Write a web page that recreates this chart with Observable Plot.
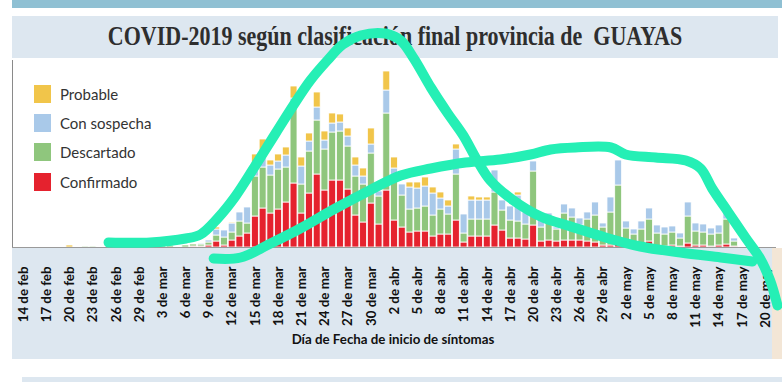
<!DOCTYPE html>
<html><head><meta charset="utf-8">
<script src="https://cdn.jsdelivr.net/npm/d3@7"></script>
<script src="https://cdn.jsdelivr.net/npm/@observablehq/plot@0.6"></script>
<style>
body{margin:0;background:#fff;}
#wrap{position:relative;width:782px;height:382px;overflow:hidden;font-family:Lato,"Open Sans",sans-serif;}
.bg{position:absolute;}
#title{position:absolute;left:12px;top:16px;width:766px;height:42px;line-height:42px;text-align:center;font-family:"Liberation Serif","Times New Roman",serif;font-weight:bold;font-size:22px;color:#2e2e2e;white-space:pre;transform:scaleY(1.22);transform-origin:50% 52%;}
#xlabel{position:absolute;left:12px;width:762px;top:331px;text-align:center;font-family:Lato,sans-serif;font-weight:bold;font-size:13.3px;color:#111;}
#legend{position:absolute;left:34px;top:79px;}
.lrow{display:flex;align-items:center;height:29.4px;}
.sw{width:17px;height:18px;margin-right:9px;}
.lt{font-family:Lato,sans-serif;font-size:15px;color:#333;}
#chart{position:absolute;left:0;top:0;}
</style></head><body>
<div id="wrap">
  <div class="bg" style="left:12px;top:0;width:770px;height:8px;background:#8fc0d3"></div>
  <div class="bg" style="left:12px;top:16px;width:766px;height:42px;background:#dde7f0"></div>
  <div id="title">COVID-2019 según clasificación final provincia de  GUAYAS</div>
  <div class="bg" style="left:12px;top:248px;width:760px;height:111px;background:#dde7f0"></div>
  <div class="bg" style="left:772px;top:248px;width:10px;height:111px;background:#f3e6d6"></div>
  <div class="bg" style="left:22px;top:377px;width:760px;height:5px;background:#dde7f0"></div>
  <div id="xlabel">Día de Fecha de inicio de síntomas</div>
  <div id="legend"></div>
  <div id="chart"></div>
</div>
<script>
// ---- data (day index 0 = 14 de feb, 96 = 20 de may) ----
const tickLabels = ["14 de feb","17 de feb","20 de feb","23 de feb","26 de feb","29 de feb","3 de mar","6 de mar","9 de mar","12 de mar","15 de mar","18 de mar","21 de mar","24 de mar","27 de mar","30 de mar","2 de abr","5 de abr","8 de abr","11 de abr","14 de abr","17 de abr","20 de abr","23 de abr","26 de abr","29 de abr","2 de may","5 de may","8 de may","11 de may","14 de may","17 de may","20 de may"];
const categories = ["Confirmado","Descartado","Con sospecha","Probable"];
const colors = ["#e5222e","#8fc67d","#a9c9e9","#f1c54a"];
const confirmado = [
 0,0,0,0,0,0,0,0,0,0,
 0,0,0,0,0,0,0,0,0,0,
 0,0,1,1,2,6,2,7,11,14,
 31,39,34,38,45,64,34,54,73,57,
 67,67,58,32,25,44,23,57,27,20,
 15,16,16,11,13,13,27,5,11,11,
 11,22,17,9,9,8,22,6,7,6,
 7,7,7,6,5,2,2,4,2,1,
 1,6,1,1,2,1,4,2,2,1,
 2,3,1,0,0,0,0];
const descartado = [
 0,0,0,0,0,0,0,0,1,1,
 0,0,0,0,0,0,0,0,2,2,
 0,2,2,2,3,6,8,8,15,10,
 40,41,38,40,35,78,29,42,54,41,
 48,49,43,39,38,50,28,77,40,32,
 23,23,25,21,25,20,46,9,17,17,
 17,33,20,18,17,15,54,14,20,12,
 27,23,15,22,27,18,33,58,17,12,
 17,22,13,12,13,8,27,14,13,12,
 12,25,5,0,0,0,0];
const sospecha = [
 0,0,0,0,0,0,0,0,0,0,
 0,0,0,0,0,0,0,0,2,2,
 0,0,0,1,2,6,7,9,9,16,
 9,14,10,8,12,7,18,10,13,9,
 9,9,10,11,8,9,5,23,12,11,
 22,20,20,22,11,8,25,19,19,19,
 19,22,10,14,26,12,10,9,7,2,
 9,9,7,7,13,4,15,25,7,5,
 8,11,8,7,6,5,14,8,8,6,
 8,10,3,0,0,0,0];
const probable = [
 0,0,0,0,0,0,2,0,0,0,
 0,0,0,0,0,0,0,0,0,0,
 0,0,0,0,0,2,0,1,0,0,
 13,14,5,7,8,12,9,8,15,9,
 10,8,8,8,8,16,0,19,11,0,
 5,6,9,6,6,6,5,0,4,3,
 3,0,0,0,3,0,0,0,0,0,
 0,0,0,0,0,0,0,0,0,0,
 0,0,0,0,0,0,0,0,0,0,
 0,0,0,0,0,0,0];
// hand-drawn annotation strokes (day position, value units)
const bellX = [11.5,16.9,21.5,23.4,25.6,27.9,30.5,33.1,35.4,37.6,39.8,41.8,44.1,47.3,49.3,51.0,53.2,55.4,57.4,59.2,60.9,63.9,67.4,71.3,75.8,80.3,85.5,90.7,94.8];
const bellY = [5,5,9,13,29,51,82,114,142,167,187,203,212,214,207,189,160,134,112,87,67,47,31,21,10,1,-5,-10,-14];
const waveX = [25.1,28.6,32.2,36.3,40.6,45.0,49.3,53.2,57.7,62.2,66.1,68.7,71.9,76.5,78.4,82.3,86.2,88.1,89.6,91.7,93.9,95.8,97.1,98.05];
const waveY = [-11,-10,3,19,38,56,72,79,85,88,93,98,100,100,93,90,87,79,59,35,10,-11,-33,-58];

// ---- build ----
const series = {"Confirmado": confirmado, "Descartado": descartado, "Con sospecha": sospecha, "Probable": probable};
const rows = [];
d3.range(confirmado.length).forEach(d => {
  categories.forEach(c => { const v = series[c][d]; if (v > 0) rows.push({day: d, type: c, value: v}); });
});
const bell = bellX.map((x, i) => ({x, y: bellY[i]}));
const wave = waveX.map((x, i) => ({x, y: waveY[i]}));
const tickPos = tickLabels.map((_, i) => i * 3 + 0.5);
const xDomain = [-0.924, 97.92];
const cyan = "#25efb5";

const chart = Plot.plot({
  width: 782, height: 382,
  marginTop: 60, marginBottom: 135, marginLeft: 12, marginRight: 6,
  style: {background: "transparent", overflow: "visible", fontFamily: "Lato, sans-serif"},
  x: {domain: xDomain, label: null},
  y: {domain: [0, 187], axis: null},
  color: {domain: categories, range: colors},
  marks: [
    Plot.ruleX([xDomain[0]], {stroke: "#8a8a8a"}),
    Plot.rectY(rows, {x: "day", interval: 1, y: "value", fill: "type", insetLeft: 0.4, insetRight: 0.4, stroke: "white", strokeWidth: 0.8}),
    Plot.ruleY([0], {stroke: "#9a9a9a"}),
    Plot.axisX({ticks: tickPos, tickFormat: t => tickLabels[Math.round((t - 0.5) / 3)], tickRotate: -90, tickSize: 0, tickPadding: 19, fontSize: 13.3, fontWeight: "bold", fill: "#111", label: null}),
    Plot.line(bell, {x: "x", y: "y", stroke: cyan, strokeWidth: 10, curve: "catmull-rom", strokeLinecap: "round", strokeLinejoin: "round"}),
    Plot.line(wave, {x: "x", y: "y", stroke: cyan, strokeWidth: 10, curve: "catmull-rom", strokeLinecap: "round", strokeLinejoin: "round"})
  ]
});
document.getElementById("chart").appendChild(chart);

// legend
const lg = document.getElementById("legend");
[...categories].reverse().forEach(c => {
  const r = document.createElement("div"); r.className = "lrow";
  const s = document.createElement("div"); s.className = "sw"; s.style.background = colors[categories.indexOf(c)];
  const t = document.createElement("span"); t.className = "lt"; t.textContent = c;
  r.appendChild(s); r.appendChild(t); lg.appendChild(r);
});
</script>
</body></html>
